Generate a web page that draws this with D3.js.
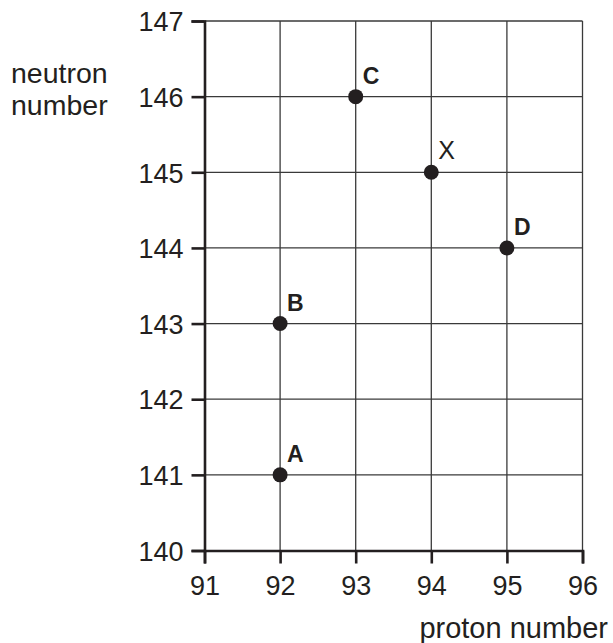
<!DOCTYPE html>
<html>
<head>
<meta charset="utf-8">
<script src="https://cdn.jsdelivr.net/npm/d3@7"></script>
<style>
  body { margin: 0; background: #fff; }
  text { font-family: "Liberation Sans", Arial, sans-serif; fill: #231f20; }
</style>
</head>
<body>
<svg id="chart" width="613" height="643"></svg>
<script>
// data
const protonTicks = [91, 92, 93, 94, 95, 96];
const neutronTicks = [140, 141, 142, 143, 144, 145, 146, 147];
const nuclideNames = ["A", "B", "C", "X", "D"];
const protonNumbers = [92, 92, 93, 94, 95];
const neutronNumbers = [141, 143, 146, 145, 144];
const labelBold = [true, true, true, false, true];

let svg = d3.select("#chart");

let x = d3.scaleLinear().domain([91, 96]).range([204.5, 582.5]),
    y = d3.scaleLinear().domain([140, 147]).range([550.5, 21]);

const ink = "#231f20";

// grid
let grid = svg.append("g");
grid.selectAll("line.v")
  .data(protonTicks.slice(1))
  .enter().append("line")
  .attr("x1", d => x(d)).attr("x2", d => x(d))
  .attr("y1", y(147)).attr("y2", y(140))
  .attr("stroke", "#3a3a3a").attr("stroke-width", 1.3);
grid.selectAll("line.h")
  .data(neutronTicks.slice(1))
  .enter().append("line")
  .attr("x1", x(91)).attr("x2", x(96))
  .attr("y1", d => y(d)).attr("y2", d => y(d))
  .attr("stroke", "#3a3a3a").attr("stroke-width", 1.3);

// axes
let xAxis = svg.append("g")
  .attr("transform", "translate(0," + y(140) + ")")
  .call(d3.axisBottom(x).tickValues(protonTicks).tickSize(13).tickPadding(6).tickFormat(d3.format("d")));
let yAxis = svg.append("g")
  .attr("transform", "translate(" + x(91) + ",0)")
  .call(d3.axisLeft(y).tickValues(neutronTicks).tickSize(13).tickPadding(8).tickFormat(d3.format("d")));

[xAxis, yAxis].forEach(a => {
  a.select(".domain").attr("stroke", ink).attr("stroke-width", 2.6);
  a.selectAll(".tick line").attr("stroke", ink).attr("stroke-width", 2.6);
  a.selectAll(".tick text").style("font-size", "27px").style("font-family", "Liberation Sans, Arial, sans-serif").attr("fill", ink);
});
xAxis.selectAll(".tick text").attr("dy", "0.95em");
yAxis.selectAll(".tick text").attr("dy", "0.36em");

// axis titles
svg.append("text").attr("x", 11).attr("y", 83).style("font-size", "28.5px").text("neutron");
svg.append("text").attr("x", 11).attr("y", 115).style("font-size", "28.5px").text("number");
svg.append("text").attr("x", 608).attr("y", 638).attr("text-anchor", "end").style("font-size", "29px").text("proton number");

// points
let pts = svg.append("g").selectAll("g")
  .data(nuclideNames.map((n, i) => ({ name: n, p: protonNumbers[i], n: neutronNumbers[i], bold: labelBold[i] })))
  .enter().append("g")
  .attr("transform", d => "translate(" + x(d.p) + "," + y(d.n) + ")");

pts.append("circle").attr("r", 7.5).attr("fill", ink);
pts.append("text")
  .attr("x", 7).attr("y", -13)
  .style("font-size", d => d.bold ? "23px" : "25px")
  .style("font-weight", d => d.bold ? "bold" : "normal")
  .text(d => d.name);
</script>
</body>
</html>
